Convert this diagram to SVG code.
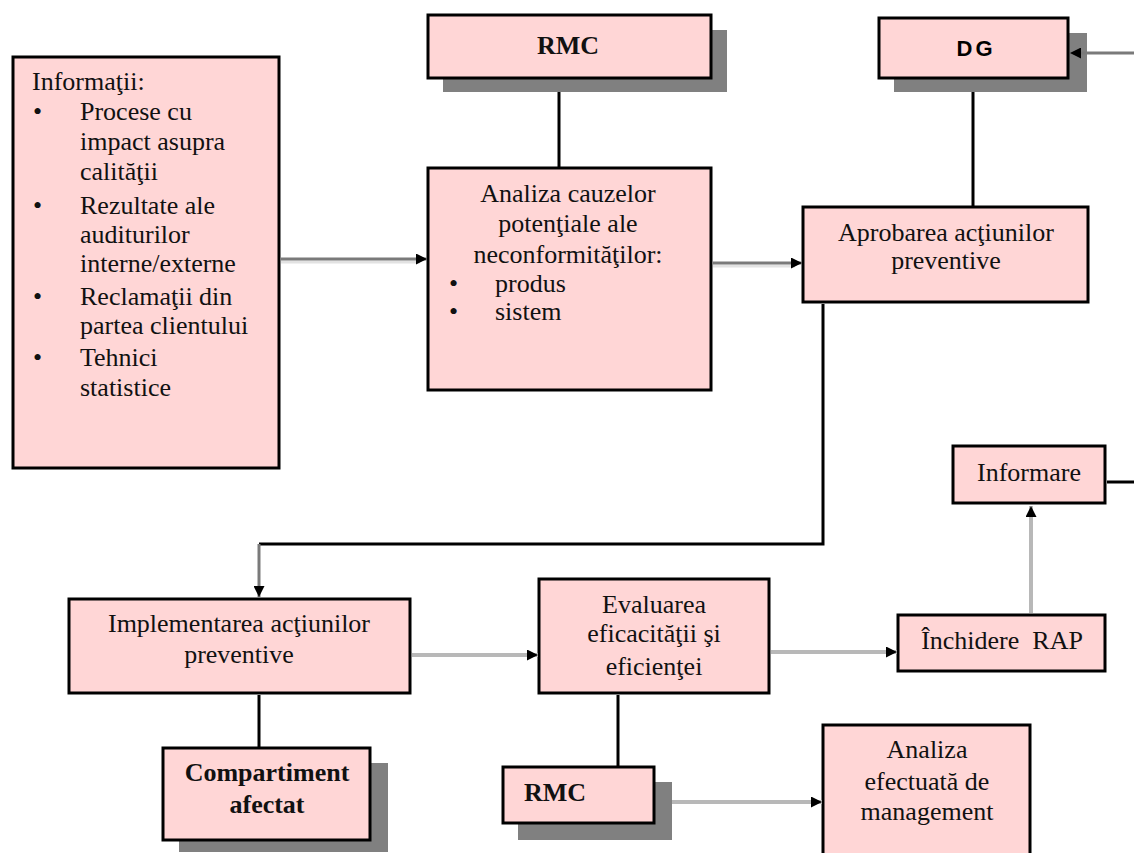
<svg xmlns="http://www.w3.org/2000/svg" width="1134" height="853" viewBox="0 0 1134 853">
  <style>
    .box { fill: #ffd6d6; stroke: #000; stroke-width: 3; }
    .shadow { fill: #808080; }
    .t { font-family: "Liberation Serif", "Times New Roman", serif; font-size: 26px; fill: #111; }
    .c { text-anchor: middle; }
    .b { font-weight: bold; }
    .sans { font-family: "Liberation Sans", Arial, sans-serif; font-weight: bold; font-size: 22px; letter-spacing: 3px; }
    .link { fill: none; stroke: #000; stroke-width: 3; }
    .dark { fill: none; stroke: #7a7a7a; stroke-width: 3; }
    .light { fill: none; stroke: #b8b8b8; stroke-width: 4; }
    .halo { fill: none; stroke: #e2e2e2; stroke-width: 3; }
  </style>
  <defs>
    <marker id="arrow" viewBox="0 0 10 10" refX="10" refY="5" markerWidth="11" markerHeight="11" markerUnits="userSpaceOnUse" orient="auto">
      <path d="M0,0 L10,5 L0,10 Z" fill="#000"/>
    </marker>
  </defs>

  <g id="informatii">
    <rect class="box" x="13" y="57" width="266" height="411"/>
    <text class="t" x="32" y="90">Informaţii:</text>
    <g class="t">
      <text x="33" y="120">•</text>
      <text x="80" y="120">Procese cu</text>
      <text x="80" y="150">impact asupra</text>
      <text x="80" y="180">calităţii</text>
      <text x="33" y="214">•</text>
      <text x="80" y="214">Rezultate ale</text>
      <text x="80" y="243">auditurilor</text>
      <text x="80" y="272">interne/externe</text>
      <text x="33" y="305">•</text>
      <text x="80" y="305">Reclamaţii din</text>
      <text x="80" y="334">partea clientului</text>
      <text x="33" y="366">•</text>
      <text x="80" y="366">Tehnici</text>
      <text x="80" y="396">statistice</text>
    </g>
  </g>

  <g id="rmc-top">
    <rect class="shadow" x="443" y="30" width="284" height="62"/>
    <rect class="box" x="428" y="15" width="283" height="63"/>
    <text class="t c b" x="568" y="54">RMC</text>
  </g>

  <g id="analiza-cauze">
    <rect class="box" x="428" y="168" width="283" height="222"/>
    <text class="t c" x="568" y="202">Analiza cauzelor</text>
    <text class="t c" x="568" y="232">potenţiale ale</text>
    <text class="t c" x="568" y="263">neconformităţilor:</text>
    <text class="t" x="449" y="292">•</text>
    <text class="t" x="495" y="292">produs</text>
    <text class="t" x="449" y="320">•</text>
    <text class="t" x="495" y="320">sistem</text>
  </g>

  <g id="dg">
    <rect class="shadow" x="894" y="33" width="193" height="59"/>
    <rect class="box" x="879" y="18" width="189" height="60"/>
    <text class="sans c" x="976" y="56">DG</text>
  </g>

  <g id="aprobarea">
    <rect class="box" x="803" y="207" width="285" height="95"/>
    <text class="t c" x="946" y="241">Aprobarea acţiunilor</text>
    <text class="t c" x="946" y="269">preventive</text>
  </g>

  <g id="informare">
    <rect class="box" x="953" y="446" width="152" height="57"/>
    <text class="t c" x="1029" y="481">Informare</text>
  </g>

  <g id="implementarea">
    <rect class="box" x="69" y="599" width="341" height="94"/>
    <text class="t c" x="239" y="632">Implementarea acţiunilor</text>
    <text class="t c" x="239" y="663">preventive</text>
  </g>

  <g id="compartiment">
    <rect class="shadow" x="179" y="763" width="209" height="89"/>
    <rect class="box" x="163" y="748" width="207" height="92"/>
    <text class="t c b" x="267" y="781">Compartiment</text>
    <text class="t c b" x="267" y="813">afectat</text>
  </g>

  <g id="evaluarea">
    <rect class="box" x="539" y="579" width="230" height="114"/>
    <text class="t c" x="654" y="613">Evaluarea</text>
    <text class="t c" x="654" y="642">eficacităţii şi</text>
    <text class="t c" x="654" y="675">eficienţei</text>
  </g>

  <g id="inchidere">
    <rect class="box" x="898" y="615" width="207" height="56"/>
    <text class="t c" x="1002" y="649" xml:space="preserve">Închidere  RAP</text>
  </g>

  <g id="rmc-bottom">
    <rect class="shadow" x="518" y="782" width="154" height="58"/>
    <rect class="box" x="503" y="767" width="151" height="56"/>
    <text class="t b" x="524" y="801">RMC</text>
  </g>

  <g id="analiza-management">
    <rect class="box" x="823" y="725" width="207" height="140"/>
    <text class="t c" x="927" y="758">Analiza</text>
    <text class="t c" x="927" y="790">efectuată de</text>
    <text class="t c" x="927" y="820">management</text>
  </g>

  <!-- connectors, drawn above the boxes so arrowheads sit over the shadows -->
  <g id="connectors">
    <!-- Informatii -> Analiza cauzelor -->
    <line class="halo" x1="281" y1="262" x2="420" y2="262"/>
    <line class="dark" x1="281" y1="259" x2="427" y2="259" marker-end="url(#arrow)"/>
    <!-- Analiza cauzelor -> Aprobarea -->
    <line class="halo" x1="713" y1="266" x2="795" y2="266"/>
    <line class="dark" x1="713" y1="263" x2="802" y2="263" marker-end="url(#arrow)"/>
    <!-- RMC - Analiza cauzelor -->
    <line class="link" x1="559" y1="92" x2="559" y2="167"/>
    <!-- DG - Aprobarea -->
    <line class="link" x1="973" y1="92" x2="973" y2="206"/>
    <!-- Aprobarea -> Implementarea -->
    <path class="link" d="M823,304 V544 H259"/>
    <line class="dark" x1="259" y1="544" x2="259" y2="597" marker-end="url(#arrow)"/>
    <!-- Implementarea - Compartiment -->
    <line class="link" x1="259" y1="695" x2="259" y2="747"/>
    <!-- Implementarea -> Evaluarea -->
    <line class="light" x1="412" y1="655" x2="538" y2="655" marker-end="url(#arrow)"/>
    <!-- Evaluarea -> Inchidere RAP -->
    <line class="light" x1="771" y1="652" x2="897" y2="652" marker-end="url(#arrow)"/>
    <!-- Inchidere RAP -> Informare -->
    <line class="light" x1="1031" y1="613" x2="1031" y2="506" marker-end="url(#arrow)"/>
    <!-- Informare -> DG (via right edge) -->
    <line class="link" x1="1107" y1="482" x2="1134" y2="482"/>
    <line class="dark" x1="1134" y1="53" x2="1070" y2="53" marker-end="url(#arrow)"/>
    <!-- Evaluarea - RMC -->
    <line class="link" x1="618" y1="695" x2="618" y2="766"/>
    <!-- RMC -> Analiza efectuata -->
    <line class="light" x1="672" y1="802" x2="822" y2="802" marker-end="url(#arrow)"/>
  </g>
</svg>
